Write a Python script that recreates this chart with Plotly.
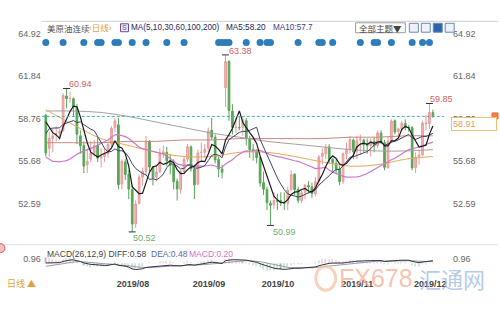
import plotly.graph_objects as go
import pandas as pd

# ---------------- data ----------------
dates = (["2019-07-%02d" % d for d in [2,3,5,8,9,10,11,12,15,16,17,18,19,22,23,24,25,26,29,30,31]] +
         ["2019-08-%02d" % d for d in [1,2,5,6,7,8,9,12,13,14,15,16,19,20,21,22,23,26,27,28,29,30]] +
         ["2019-09-%02d" % d for d in [3,4,5,6,9,10,11,12,13,16,17,18,19,20,23,24,25,26,27,30]] +
         ["2019-10-%02d" % d for d in [1,2,3,4,7,8,9,10,11,14,15,16,17,18,21,22,23,24,25,28,29,30,31]] +
         ["2019-11-%02d" % d for d in [1,4,5,6,7,8,11,12,13,14,15,18,19,20,21,22,25,26,27,28,29]] +
         ["2019-12-%02d" % d for d in [2,3,4,5,6,9]])

open_ = [59.0,56.6,57.3,57.6,57.7,57.9,60.4,60.2,60.2,59.5,57.5,56.8,55.4,55.8,56.2,56.8,55.9,56.0,56.2,56.9,58.1,
         58.3,54.0,55.6,54.7,53.6,51.1,52.6,54.5,54.9,57.1,55.2,54.5,54.9,56.2,56.3,55.7,55.4,54.2,53.6,54.9,55.8,56.7,
         55.1,54.0,56.3,56.3,56.6,57.9,57.4,55.8,55.1,61.0,62.9,59.3,58.1,58.1,58.1,58.6,57.3,56.5,56.4,55.9,
         54.1,53.6,52.6,52.5,52.8,52.8,52.6,52.6,53.6,54.7,53.6,52.8,53.4,53.9,53.8,53.3,54.2,56.0,56.2,56.7,55.8,55.5,55.1,
         54.2,56.2,56.5,57.2,56.4,57.2,57.2,56.9,56.8,57.1,56.8,57.7,57.0,55.2,57.1,58.6,57.8,58.0,58.4,58.1,58.1,
         55.2,56.0,56.1,58.4,58.4,59.2]
high = [59.1,57.8,58.0,58.2,58.0,60.6,60.94,60.7,60.3,59.8,57.9,57.1,56.5,57.1,57.2,57.4,56.6,56.6,57.0,58.2,58.8,
        58.8,55.8,55.8,55.0,53.9,52.8,54.7,55.2,57.5,57.2,55.3,55.3,56.6,56.8,56.7,56.2,55.8,54.4,55.0,56.0,56.9,56.8,
        55.4,56.5,57.0,56.9,58.1,58.8,57.6,56.0,55.4,63.38,63.0,59.8,58.8,58.9,58.9,58.8,57.5,56.9,56.5,56.0,
        54.9,53.8,52.8,53.4,53.3,53.4,53.4,53.8,55.0,54.8,53.8,53.5,54.0,54.2,54.1,54.5,56.1,56.6,56.9,56.9,55.9,55.8,55.3,
        56.3,57.0,57.5,57.3,57.5,57.6,57.3,57.3,57.3,57.4,57.9,57.9,57.2,57.4,58.7,58.7,58.1,58.6,58.7,58.3,58.2,
        56.3,56.5,58.6,59.0,59.85,59.4]
low = [56.0,56.0,56.3,57.1,57.2,57.8,59.5,59.9,58.9,56.9,56.2,54.8,54.8,55.6,56.0,55.6,55.2,55.6,55.9,56.6,57.8,
       53.6,53.6,54.3,52.9,50.52,50.8,52.5,53.9,54.6,54.9,53.9,54.2,54.8,55.9,55.3,54.7,53.6,52.8,53.3,54.7,55.6,54.9,
       52.9,53.9,55.6,55.9,56.3,57.2,55.5,54.5,54.4,59.6,58.6,57.6,57.7,57.9,57.5,56.8,55.9,55.7,55.5,53.8,
       53.2,52.1,50.99,52.2,52.1,52.4,52.1,52.1,53.5,53.2,52.6,52.6,52.9,53.3,53.0,53.1,53.9,55.4,55.8,55.5,54.9,54.8,53.9,
       54.0,55.8,56.2,55.8,55.8,56.1,56.3,56.2,56.0,56.3,56.6,56.9,55.0,55.1,57.0,57.6,57.4,57.8,57.9,57.8,55.0,
       54.8,55.4,56.0,57.9,58.0,58.8]
close = [56.25,57.34,57.51,57.66,57.83,60.43,60.20,60.21,59.58,57.62,56.78,55.30,55.63,56.22,56.77,55.88,56.02,56.20,56.87,58.05,58.58,
         53.95,55.66,54.69,53.63,51.09,52.54,54.50,54.93,57.10,55.23,54.47,54.87,56.21,56.34,55.68,55.35,54.17,53.64,54.93,55.78,56.71,55.10,
         53.94,56.26,56.30,56.52,57.85,57.40,55.75,55.09,54.85,62.90,59.34,58.11,58.13,58.09,58.64,57.29,56.49,56.41,55.91,54.07,
         53.62,52.64,52.45,52.81,52.75,52.63,52.59,53.55,54.70,53.59,52.81,53.36,53.93,53.78,53.31,54.16,55.97,56.23,56.66,55.81,55.54,55.06,54.18,
         56.20,56.54,57.23,56.35,57.15,57.24,56.86,56.80,57.12,56.77,57.72,57.05,55.21,57.11,58.58,57.77,58.01,58.41,58.11,58.10,55.17,
         55.96,56.10,58.43,58.43,59.20,58.91]
# closes before the first shown day (for moving averages / MACD)
prior_closes = [63.10,62.99,61.42,57.91,58.63,59.14,58.81,56.59,53.50,53.25,53.48,51.68,52.59,53.99,53.26,
                53.27,51.14,52.28,52.51,51.93,53.90,53.76,57.07,57.43,57.90,57.83,59.38,59.43,58.47,59.09]

ma_idx = [0,8,16,24,32,40,48,56,64,72,80,88,96,104,112]
ma60_vals = [59.4,58.3,57.3,56.8,56.3,56.0,56.0,56.3,56.3,56.0,55.6,55.3,55.4,55.8,56.0]
ma100_vals = [59.3,59.3,59.2,58.9,58.5,58.1,57.7,57.4,57.1,56.9,56.7,56.5,56.4,56.4,56.5]
ma200_vals = [57.0,57.0,57.0,57.1,57.1,57.2,57.2,57.3,57.3,57.3,57.3,57.4,57.4,57.5,57.5]

event_idx = [0,5,11,15,16,20,21,25,29,35,40,50,51,52,53,58,62,64,65,73,79,80,83,91,95,96,100,106,109,111]

y_ticks = [64.92,61.84,58.76,55.68,52.59]
month_labels = ["2019/08","2019/09","2019/10","2019/11","2019/12"]
month_first = ["2019-08-01","2019-09-03","2019-10-01","2019-11-01","2019-12-02"]
last_price = 58.91

# ---------------- derived ----------------
n = len(dates)
idx = list(range(n))
allc = pd.Series(prior_closes + close)
k = len(prior_closes)
ma5 = allc.rolling(5).mean().iloc[k:].tolist()
ma10 = allc.rolling(10).mean().iloc[k:].tolist()
ma30 = allc.rolling(30, min_periods=25).mean().iloc[k:].tolist()
ema12 = allc.ewm(span=12, adjust=False).mean()
ema26 = allc.ewm(span=26, adjust=False).mean()
diff = ema12 - ema26
dea = diff.ewm(span=9, adjust=False).mean()
hist = 2 * (diff - dea)
diff_v = diff.iloc[k:].tolist(); dea_v = dea.iloc[k:].tolist(); hist_v = hist.iloc[k:].tolist()

W, H = 500, 310
def px(x): return x / W
def py(y): return 1 - y / H

# price pixel mapping: y = 31 + (64.92 - p) * s
s = 13.9
y0 = 31
p_top = 64.92 + (y0 - 26) / s
p_bot = 64.92 - (234 - y0) / s
x0px, x1px = 42, 446
first_px, step = 46, 3.47
xr = [(x0px - first_px) / step, (x1px - first_px) / step]

FONT = "Arial, Liberation Sans, Noto Sans CJK SC"
CJK = "Noto Sans CJK SC"

fig = go.Figure()
fig.add_trace(go.Candlestick(
    x=idx, open=open_, high=high, low=low, close=close,
    increasing=dict(line=dict(color="#e89a9a", width=1), fillcolor="#f2b4b4"),
    decreasing=dict(line=dict(color="#58a558", width=1), fillcolor="#58a558"),
    whiskerwidth=0, showlegend=False, hoverinfo="skip", xaxis="x", yaxis="y"))

def line(xv, yv, color, w, shape="linear"):
    fig.add_trace(go.Scatter(x=xv, y=yv, mode="lines", line=dict(color=color, width=w, shape=shape),
                             showlegend=False, hoverinfo="skip", xaxis="x", yaxis="y"))

line(ma_idx, ma200_vals, "#c58a80", 1, "spline")
line(ma_idx, ma100_vals, "#a8a0a0", 1, "spline")
line(ma_idx, ma60_vals, "#e8a85a", 1, "spline")
line(idx, ma30, "#cc77cc", 1.2)
line(idx, ma10, "#3d4470", 1)
line(idx, ma5, "#1a1a1a", 1.2)

# current price dashed line
fig.add_trace(go.Scatter(x=[xr[0], xr[1]], y=[last_price, last_price], mode="lines",
                         line=dict(color="#4fb0c0", width=1, dash="3px,2px"),
                         showlegend=False, hoverinfo="skip", xaxis="x", yaxis="y"))

# event dots
ev_y = 64.92 - (40 - y0) / s
fig.add_trace(go.Scatter(x=event_idx, y=[ev_y] * len(event_idx), mode="markers",
                         marker=dict(color="#2d7cbc", size=7), cliponaxis=False,
                         showlegend=False, hoverinfo="skip", xaxis="x", yaxis="y"))

# right axis helper trace
fig.add_trace(go.Scatter(x=[0], y=[p_bot], mode="markers", marker=dict(opacity=0),
                         showlegend=False, hoverinfo="skip", xaxis="x", yaxis="y2"))

# MACD panel
fig.add_trace(go.Bar(x=idx, y=hist_v, marker_color=["#e8a0a0" if v >= 0 else "#86c086" for v in hist_v],
                     width=0.3, showlegend=False, hoverinfo="skip", xaxis="x2", yaxis="y3"))
fig.add_trace(go.Scatter(x=idx, y=dea_v, mode="lines", line=dict(color="#9a9aa8", width=1),
                         showlegend=False, hoverinfo="skip", xaxis="x2", yaxis="y3"))
fig.add_trace(go.Scatter(x=idx, y=diff_v, mode="lines", line=dict(color="#303040", width=1),
                         showlegend=False, hoverinfo="skip", xaxis="x2", yaxis="y3"))
fig.add_trace(go.Scatter(x=[0], y=[0], mode="markers", marker=dict(opacity=0),
                         showlegend=False, hoverinfo="skip", xaxis="x2", yaxis="y4"))

tick_font = dict(family=FONT, size=9, color="#666666")
ydom = [py(234), py(26)]
mdom = [py(277), py(256)]
mrange = [-2.6, 1.4]
fig.update_layout(
    width=W, height=H, margin=dict(l=0, r=0, t=0, b=0),
    paper_bgcolor="white", plot_bgcolor="white", bargap=0,
    xaxis=dict(domain=[px(x0px), px(x1px)], range=xr, showticklabels=False, showgrid=False,
               zeroline=False, rangeslider=dict(visible=False), anchor="y"),
    yaxis=dict(domain=ydom, range=[p_bot, p_top], tickvals=y_ticks, ticktext=["%.2f" % v for v in y_ticks],
               showgrid=False, zeroline=False, ticks="", tickfont=tick_font, side="left", anchor="x"),
    yaxis2=dict(domain=ydom, range=[p_bot, p_top], tickvals=y_ticks, ticktext=["%.2f" % v for v in y_ticks],
                showgrid=False, zeroline=False, ticks="outside", ticklen=6, tickcolor="white",
                tickfont=tick_font, side="right", overlaying="y", anchor="x"),
    xaxis2=dict(domain=[px(x0px), px(x1px)], range=xr, anchor="y3", showgrid=False, zeroline=False,
                tickvals=[dates.index(d) - 0.5 for d in month_first], ticktext=["<b>%s</b>" % m for m in month_labels],
                ticklabelposition="outside right", ticks="",
                tickfont=dict(family=FONT, size=9, color="#444444")),
    yaxis3=dict(domain=mdom, range=mrange, tickvals=[0.96], ticktext=["0.96"], showgrid=False,
                zeroline=False, ticks="", tickfont=tick_font, anchor="x2"),
    yaxis4=dict(domain=mdom, range=mrange, tickvals=[0.96], ticktext=["0.96"], showgrid=False,
                zeroline=False, ticks="outside", ticklen=6, tickcolor="white",
                tickfont=tick_font, side="right", overlaying="y3", anchor="x2"),
)

shapes = []
# separator lines
shapes.append(dict(type="line", xref="paper", yref="paper", x0=px(42), x1=1, y0=py(18.5), y1=py(18.5),
                   line=dict(color="#cfcfcf", width=1)))
shapes.append(dict(type="line", xref="paper", yref="paper", x0=0, x1=1, y0=py(244), y1=py(244),
                   line=dict(color="#e2e2e2", width=1)))
# theme box and icons
shapes.append(dict(type="rect", xref="paper", yref="paper", x0=px(357), x1=px(407), y0=py(30), y1=py(20),
                   line=dict(color="#9a9a9a", width=1), fillcolor="white"))
for i, cx in enumerate([411, 423, 435, 447]):
    shapes.append(dict(type="rect", xref="paper", yref="paper", x0=px(cx), x1=px(cx + 9), y0=py(29.5), y1=py(20.5),
                       line=dict(color="#6a8ab0", width=1), fillcolor="#2a66b0" if i == 2 else "#eef2f8"))
# small purple icon before MA text
shapes.append(dict(type="rect", xref="paper", yref="paper", x0=px(121), x1=px(129), y0=py(29), y1=py(21),
                   line=dict(color="#6a4a9a", width=1), fillcolor="#efe8f6"))
# orange marker near price box
shapes.append(dict(type="rect", xref="paper", yref="paper", x0=px(494), x1=px(500), y0=py(117), y1=py(111),
                   line=dict(color="#e86a30", width=1), fillcolor="#f08050"))
# left red icon
shapes.append(dict(type="circle", xref="paper", yref="paper", x0=px(-4), x1=px(5), y0=py(252), y1=py(243),
                   line=dict(color="#e05050", width=1), fillcolor="#f6c0c0"))
# watermark circle logo
shapes.append(dict(type="circle", xref="paper", yref="paper", x0=px(317), x1=px(337), y0=py(290), y1=py(266),
                   line=dict(color="#f5c8b0", width=3), fillcolor="rgba(0,0,0,0)", opacity=0.8))
fig.update_layout(shapes=shapes)

ann = []
def t(x, y, text, color="#444444", size=9, family=FONT, xanchor="left", **kw):
    ann.append(dict(x=px(x), y=py(y), xref="paper", yref="paper", text=text, showarrow=False,
                    xanchor=xanchor, yanchor="middle", font=dict(family=family, size=size, color=color), **kw))

# watermark (drawn first so labels sit on top)
t(338, 278, "FX678", color="rgba(244,176,150,0.75)", size=25, family="Arial, Liberation Sans")
t(419, 278, "汇通网", color="rgba(150,180,225,0.7)", size=22, family=CJK)

t(45, 25, "美原油连续", color="#555555", size=8.5, family=CJK)
t(87, 25, "‹日线›", color="#e0a040", size=8.5, family=FONT)
t(125, 25, "S", color="#6a4a9a", size=7, xanchor="center")
t(130, 25, "MA(5,10,30,60,100,200)", color="#2a2a5a", size=8.2)
t(225, 25, "MA5:58.20", color="#1c1c4c", size=8.2)
t(272, 25, "MA10:57.7", color="#4a3a7a", size=8.2)
t(382, 25, "全部主题▼", color="#444444", size=8.5, family=CJK, xanchor="center")

t(45, 253, "MACD(26,12,9) DIFF:0.58", color="#444444", size=8.5)
t(150, 253, "DEA:0.48", color="#5a6aa8", size=8.5)
t(188, 253, "MACD:0.20", color="#d070d0", size=8.5)
t(5, 283, "日线 ▲", color="#e0a040", size=9, family=CJK)

# price box
ann.append(dict(x=px(453), y=py(122.5), xref="paper", yref="paper", text="58.91", showarrow=False,
                xanchor="left", yanchor="middle", bgcolor="white", bordercolor="#f0c070", borderwidth=1,
                borderpad=1, width=42, align="left", font=dict(family=FONT, size=9, color="#e0a050")))

# extreme value labels (anchored to the data points)
def ext(i, val, color, xs, ys):
    ann.append(dict(x=i, y=val, xref="x", yref="y", text="%.2f" % val, showarrow=False,
                    xshift=xs, yshift=ys, font=dict(family=FONT, size=9, color=color)))
hi_i = high.index(max(high))
ext(6, high[6], "#d06060", 14, 4)
ext(hi_i, high[hi_i], "#d06060", 15, 4)
ext(25, low[25], "#70b070", 12, -6)
ext(65, low[65], "#70b070", 14, -7)
ext(111, high[111], "#d06060", 12, 4)
fig.update_layout(annotations=ann)

# small ticks at the extreme points
fig.add_trace(go.Scatter(x=[6, hi_i, 111, 25, 65], y=[high[6], high[hi_i], high[111], low[25], low[65]],
                         mode="markers", marker=dict(symbol="line-ew", size=5, line=dict(color="#333333", width=1)),
                         showlegend=False, hoverinfo="skip", xaxis="x", yaxis="y"))

fig.write_html("out.html")
